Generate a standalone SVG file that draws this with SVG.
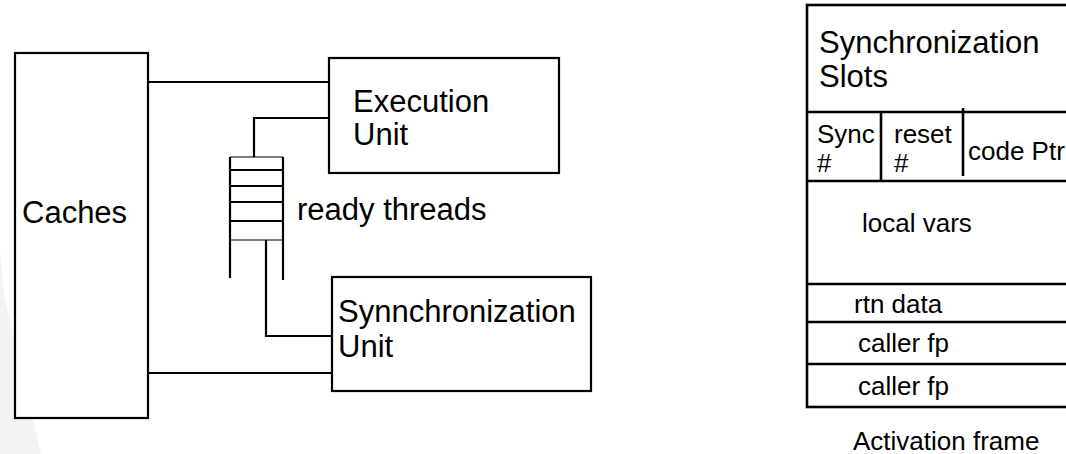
<svg xmlns="http://www.w3.org/2000/svg" width="1066" height="454" viewBox="0 0 1066 454">
  <style>
    .box { fill: #fff; stroke: #000; stroke-width: 2.2; }
    .ln { fill: none; stroke: #000; stroke-width: 2.2; }
    .thin { fill: none; stroke: #000; stroke-width: 1.2; }
    .tbl { fill: none; stroke: #000; stroke-width: 2.6; }
    text { font-family: "Liberation Sans", Arial, sans-serif; fill: #000; }
    .big { font-size: 31px; }
    .mid { font-size: 26px; }
    .sm { font-size: 26px; }
  </style>

  <!-- faint background wedge -->
  <polygon points="0,250 4,295 41,454 0,454" fill="#f3f3f3"/>

  <!-- connectors -->
  <g id="connectors">
    <line class="ln" x1="148" y1="82" x2="329" y2="82"/>
    <line class="ln" x1="148" y1="373" x2="332" y2="373"/>
    <polyline class="ln" points="329,118 254,118 254,157"/>
    <polyline class="ln" points="266,240 266,336 332,336"/>
  </g>

  <g id="caches">
    <rect class="box" x="15" y="53" width="133" height="365"/>
    <text class="big" x="22" y="223">Caches</text>
  </g>

  <g id="execution-unit">
    <rect class="box" x="329" y="58" width="230" height="115"/>
    <text class="big" x="353" y="112">Execution</text>
    <text class="big" x="353" y="145">Unit</text>
  </g>

  <g id="sync-unit">
    <rect class="box" x="332" y="277" width="259" height="114"/>
    <text class="big" x="338" y="322">Synnchronization</text>
    <text class="big" x="338" y="357">Unit</text>
  </g>

  <!-- ready-thread queue -->
  <g id="ready-queue">
    <line class="thin" x1="230" y1="157" x2="283" y2="157"/>
    <line class="ln" x1="230" y1="170" x2="283" y2="170"/>
    <line class="ln" x1="230" y1="186" x2="283" y2="186"/>
    <line class="ln" x1="230" y1="202" x2="283" y2="202"/>
    <line class="ln" x1="230" y1="221" x2="283" y2="221"/>
    <line class="thin" x1="230" y1="240" x2="283" y2="240"/>
    <line class="ln" x1="230" y1="157" x2="230" y2="278"/>
    <line class="ln" x1="283" y1="157" x2="283" y2="280"/>
    <text class="big" x="297" y="220">ready threads</text>
  </g>

  <!-- activation frame layout -->
  <g id="activation-frame">
    <rect class="tbl" x="807" y="5" width="270" height="402"/>
    <line class="tbl" x1="807" y1="112" x2="1070" y2="112"/>
    <line class="tbl" x1="807" y1="181" x2="1070" y2="181"/>
    <line class="tbl" x1="807" y1="284" x2="1070" y2="284"/>
    <line class="tbl" x1="807" y1="322" x2="1070" y2="322"/>
    <line class="tbl" x1="807" y1="364" x2="1070" y2="364"/>
    <line class="tbl" x1="881" y1="112" x2="881" y2="181"/>
    <line class="tbl" x1="963" y1="108" x2="963" y2="176"/>

    <text class="big" x="819" y="53">Synchronization</text>
    <text class="big" x="819" y="87">Slots</text>
    <text class="sm" x="817" y="143">Sync</text>
    <text class="sm" x="817" y="172">#</text>
    <text class="sm" x="894" y="143">reset</text>
    <text class="sm" x="894" y="172">#</text>
    <text class="sm" x="968" y="160">code Ptr</text>
    <text class="mid" x="862" y="232">local vars</text>
    <text class="mid" x="854" y="313">rtn data</text>
    <text class="mid" x="858" y="352">caller fp</text>
    <text class="mid" x="858" y="395">caller fp</text>
    <text class="mid" x="853" y="450">Activation frame</text>
  </g>
</svg>
